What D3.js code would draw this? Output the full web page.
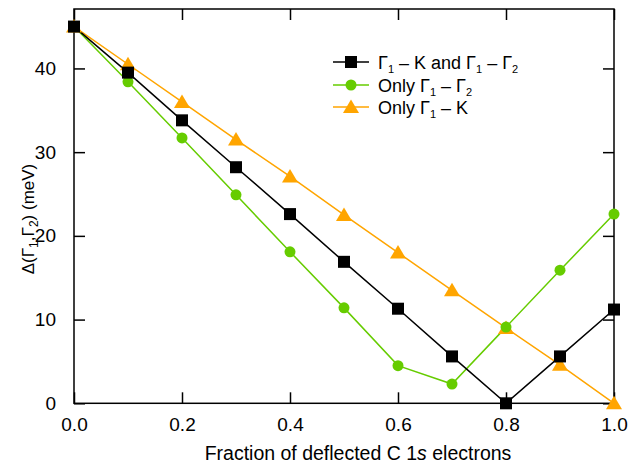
<!DOCTYPE html>
<html><head><meta charset="utf-8">
<script src="https://cdn.jsdelivr.net/npm/d3@7"></script>
<style>body{margin:0;background:#fff}text{font-family:"Liberation Sans",Arial,sans-serif;fill:#000}</style>
</head><body><svg id="c" width="642" height="466"></svg>
<script>
const fractions = [0, 0.1, 0.2, 0.3, 0.4, 0.5, 0.6, 0.7, 0.8, 0.9, 1.0];
const bothValues = [45, 39.5, 33.8, 28.2, 22.6, 16.9, 11.3, 5.6, 0, 5.6, 11.2];
const onlyG2Values = [45, 38.4, 31.7, 24.9, 18.1, 11.4, 4.5, 2.3, 9.1, 15.9, 22.6];
const onlyKValues = [45, 40.5, 36.0, 31.5, 27.1, 22.5, 18.0, 13.5, 9.0, 4.6, 0];
const xTicks = [0, 0.2, 0.4, 0.6, 0.8, 1.0];
const yTicks = [0, 10, 20, 30, 40];

const svg = d3.select("#c");
const L = 74, R = 614, T = 9, B = 403.3;
const x = d3.scaleLinear().domain([0, 1]).range([L, R]);
const y = d3.scaleLinear().domain([0, 47.1]).range([B, T]);

const series = [
  {vals: bothValues, color: "#000000", shape: "square"},
  {vals: onlyG2Values, color: "#66cc00", shape: "circle"},
  {vals: onlyKValues, color: "#ffa500", shape: "triangle"}
];
function marker(g, shape, cx, cy, color) {
  if (shape === "square") g.append("rect").attr("x", cx-6).attr("y", cy-6).attr("width", 12).attr("height", 12).attr("fill", color);
  else if (shape === "circle") g.append("circle").attr("cx", cx).attr("cy", cy).attr("r", 5.5).attr("fill", color);
  else g.append("path").attr("d", `M${cx},${cy-7.5}L${cx+8},${cy+6}L${cx-8},${cy+6}Z`).attr("fill", color);
}

// frame
svg.append("rect").attr("x", L).attr("y", T).attr("width", R-L).attr("height", B-T).attr("fill","none").attr("stroke","#000").attr("stroke-width",1.5);

// axes with inward ticks
const tl = 11;
const FF = "Liberation Sans, Arial, sans-serif";
svg.append("g").attr("transform", `translate(0,${B})`)
  .call(d3.axisBottom(x).tickValues(xTicks).tickSizeInner(-tl).tickSizeOuter(0).tickPadding(tl+3).tickFormat(d3.format(".1f")))
  .call(g => { g.select(".domain").remove(); g.selectAll("line").attr("stroke-width",1.5); g.selectAll("text").attr("font-size",19).attr("font-family",FF); });
svg.append("g").attr("transform", `translate(0,${T})`)
  .call(d3.axisTop(x).tickValues(xTicks).tickSizeInner(-tl).tickSizeOuter(0).tickFormat(""))
  .call(g => { g.select(".domain").remove(); g.selectAll("line").attr("stroke-width",1.5); });
svg.append("g").attr("transform", `translate(${L},0)`)
  .call(d3.axisLeft(y).tickValues(yTicks).tickSizeInner(-tl).tickSizeOuter(0).tickPadding(tl+7).tickFormat(d3.format("d")))
  .call(g => { g.select(".domain").remove(); g.selectAll("line").attr("stroke-width",1.5); g.selectAll("text").attr("font-size",19).attr("font-family",FF); });
svg.append("g").attr("transform", `translate(${R},0)`)
  .call(d3.axisRight(y).tickValues(yTicks).tickSizeInner(-tl).tickSizeOuter(0).tickFormat(""))
  .call(g => { g.select(".domain").remove(); g.selectAll("line").attr("stroke-width",1.5); });

// series
const line = d3.line().x((d,i)=>x(fractions[i])).y(d=>y(d));
series.slice().reverse().forEach(s => {
  svg.append("path").datum(s.vals).attr("d", line).attr("fill","none").attr("stroke", s.color).attr("stroke-width",1.5);
});
series.slice().reverse().forEach(s => {
  const g = svg.append("g");
  s.vals.forEach((v,i) => marker(g, s.shape, x(fractions[i]), y(v), s.color));
});

// legend
const legendRows = [
  {s: series[0], parts: [["Γ"],["1","sub"],[" – K and Γ"],["1","sub"],[" – Γ"],["2","sub"]]},
  {s: series[1], parts: [["Only Γ"],["1","sub"],[" – Γ"],["2","sub"]]},
  {s: series[2], parts: [["Only Γ"],["1","sub"],[" – K"]]}
];
const ly = [62, 85, 107];
legendRows.forEach((r, i) => {
  const g = svg.append("g");
  g.append("line").attr("x1",333).attr("x2",369).attr("y1",ly[i]).attr("y2",ly[i]).attr("stroke", r.s.color).attr("stroke-width",1.5);
  marker(g, r.s.shape, 351, ly[i], r.s.color);
  const t = g.append("text").attr("x",378).attr("y",ly[i]+7).attr("font-size",18);
  let shift = 0;
  r.parts.forEach(p => {
    const ts = t.append("tspan").text(p[0]);
    if (p[1] === "sub") { ts.attr("font-size",11).attr("dy", 4 - shift); shift = 4; }
    else { ts.attr("dy", -shift); shift = 0; }
  });
});

// axis titles
svg.append("text").attr("x", 358).attr("y", 460).attr("text-anchor","middle").attr("font-size",19.5)
  .call(t => { t.append("tspan").text("Fraction of deflected C 1"); t.append("tspan").attr("font-style","italic").text("s"); t.append("tspan").text(" electrons"); });
svg.append("text").attr("transform","translate(34,219) rotate(-90)").attr("text-anchor","middle").attr("font-size",17)
  .call(t => {
    t.append("tspan").text("Δ(Γ");
    t.append("tspan").attr("font-size",12).attr("dy",4).text("1");
    t.append("tspan").attr("dy",-4).text(",Γ");
    t.append("tspan").attr("font-size",12).attr("dy",4).text("2");
    t.append("tspan").attr("dy",-4).text(") (meV)");
  });
</script></body></html>
